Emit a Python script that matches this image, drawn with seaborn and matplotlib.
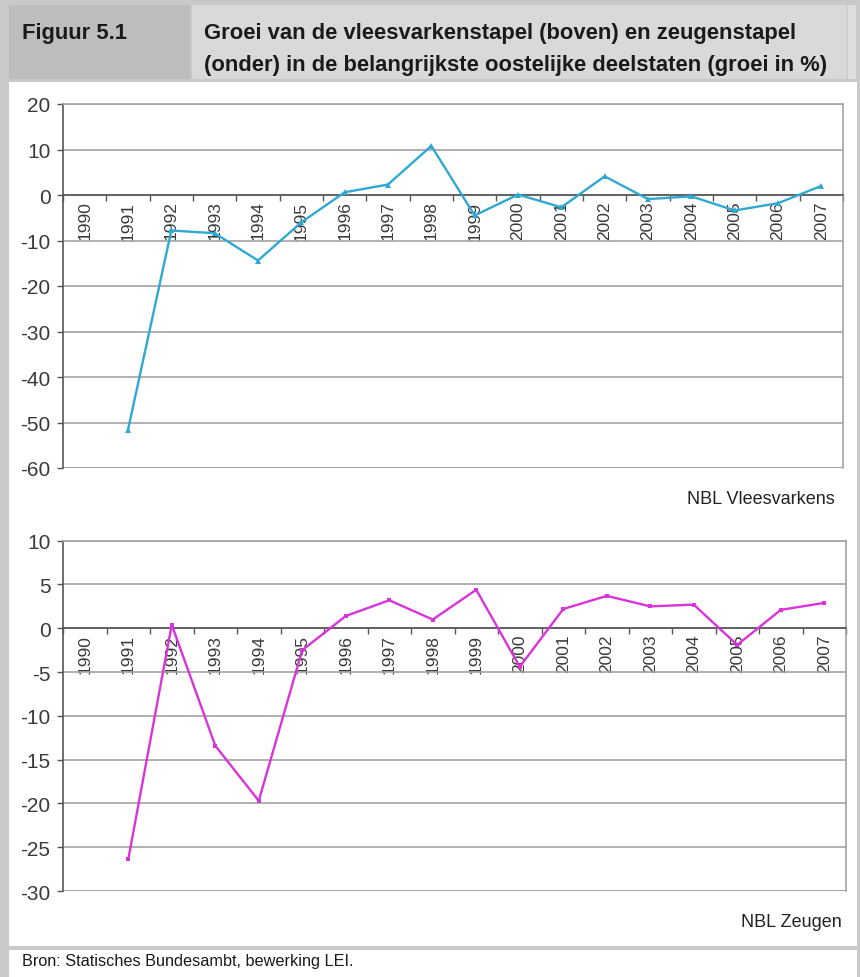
import numpy as np
import pandas as pd
import matplotlib
matplotlib.use("Agg")
import matplotlib.pyplot as plt
import seaborn as sns
from matplotlib.patches import Rectangle

# Jaarlijkse groei (%) in de belangrijkste oostelijke deelstaten
years = [str(y) for y in range(1990, 2008)]
vleesvarkens = [np.nan, -51.6, -7.8, -8.4, -14.4, -6.0, 0.6, 2.3, 10.8, -4.5,
                0.1, -2.7, 4.1, -0.9, -0.3, -3.4, -1.8, 2.0]
zeugen = [np.nan, -26.4, 0.4, -13.4, -19.7, -2.5, 1.4, 3.2, 1.0, 4.4,
          -4.4, 2.2, 3.7, 2.5, 2.7, -1.9, 2.1, 2.9]
top_ticks = [20, 10, 0, -10, -20, -30, -40, -50, -60]
bottom_ticks = [10, 5, 0, -5, -10, -15, -20, -25, -30]

title_label = "Figuur 5.1"
title_lines = ["Groei van de vleesvarkenstapel (boven) en zeugenstapel",
               "(onder) in de belangrijkste oostelijke deelstaten (groei in %)"]
series_names = ["NBL Vleesvarkens", "NBL Zeugen"]
source_text = "Bron: Statisches Bundesambt, bewerking LEI."

sns.set_theme(style="white")
plt.rcParams['font.family'] = ['Liberation Sans', 'DejaVu Sans']

W, H = 860, 978
fig = plt.figure(figsize=(W / 100, H / 100), dpi=100)
fig.patch.set_facecolor('white')


def block(x0, y0, x1, y1, color):
    """Filled rectangle in pixel coordinates measured from the top-left corner."""
    fig.patches.append(Rectangle((x0 / W, 1 - y1 / H), (x1 - x0) / W, (y1 - y0) / H,
                                 transform=fig.transFigure, facecolor=color,
                                 edgecolor='none', zorder=-10))


def axes_px(x0, y0, x1, y1):
    ax = fig.add_axes([x0 / W, 1 - y1 / H, (x1 - x0) / W, (y1 - y0) / H])
    ax.set_zorder(5)
    return ax


# table frame, header cells, body and footer
block(0, 0, W, H, '#c9c9c9')
block(9, 6, 190, 80, '#bdbdbd')
block(192, 6, 847, 80, '#d9d9d9')
block(848, 6, 856, 80, '#dedede')
block(9, 83, 857, 947, 'white')
block(9, 951, 857, H, 'white')

fig.text(22 / W, 1 - 33 / H, title_label, fontsize=15.8, fontweight='bold',
         color='#1a1a1a', va='center', ha='left')
for i, line in enumerate(title_lines):
    fig.text(204 / W, 1 - (33 + 33 * i) / H, line, fontsize=15.8, fontweight='bold',
             color='#1a1a1a', va='center', ha='left')
fig.text(22 / W, 1 - 962 / H, source_text, fontsize=11.7, color='#1a1a1a',
         va='center', ha='left')


def draw_panel(ax, values, ticks, color, marker, msize, name, name_xy):
    df = pd.DataFrame({'pos': np.arange(len(years)), 'groei': values})
    sns.lineplot(data=df, x='pos', y='groei', ax=ax, color=color, linewidth=1.7,
                 marker=marker, markersize=msize, markeredgewidth=0, zorder=3)
    ax.set_xlabel('')
    ax.set_ylabel('')
    ax.set_facecolor('white')
    ax.set_xlim(-0.5, len(years) - 0.5)
    ax.set_ylim(min(ticks), max(ticks))

    ax.set_yticks(ticks, labels=[str(t) for t in ticks])
    ax.yaxis.grid(True, color='#a3a3a3', linewidth=1.2)
    ax.set_axisbelow(True)
    ax.tick_params(axis='y', which='major', left=True, direction='out', length=4,
                   width=1, color='#555555', pad=5, labelsize=15, labelcolor='#3a3a3a')

    # category axis crosses at zero, boundaries ticked, labels centred
    ax.spines['bottom'].set_position(('data', 0))
    ax.set_xticks(np.arange(-0.5, len(years), 1.0))
    ax.set_xticklabels([])
    ax.set_xticks(np.arange(len(years)), minor=True)
    ax.set_xticklabels(years, minor=True, rotation=90, fontsize=12.5, color='#3a3a3a')
    ax.tick_params(axis='x', which='major', bottom=True, direction='out', length=4,
                   width=1, color='#555555')
    ax.tick_params(axis='x', which='minor', bottom=True, length=0, pad=4)

    for side in ('left', 'bottom'):
        ax.spines[side].set_color('#555555')
        ax.spines[side].set_linewidth(1.2)
    for side in ('top', 'right'):
        ax.spines[side].set_color('#a3a3a3')
        ax.spines[side].set_linewidth(1.2)
    ax.axhline(min(ticks), color='#a3a3a3', linewidth=1.4, zorder=1)

    fig.text(name_xy[0] / W, 1 - name_xy[1] / H, name, fontsize=13, color='#222222',
             ha='right', va='center')


ax_top = axes_px(63, 105, 843, 469)
draw_panel(ax_top, vleesvarkens, top_ticks, '#2fa8d2', '^', 4.5,
           series_names[0], (835, 500))

ax_bot = axes_px(63, 541.7, 846, 892)
draw_panel(ax_bot, zeugen, bottom_ticks, '#d834d8', 's', 3.5,
           series_names[1], (842, 923))

fig.savefig('out.png', dpi=100, facecolor=fig.get_facecolor())
